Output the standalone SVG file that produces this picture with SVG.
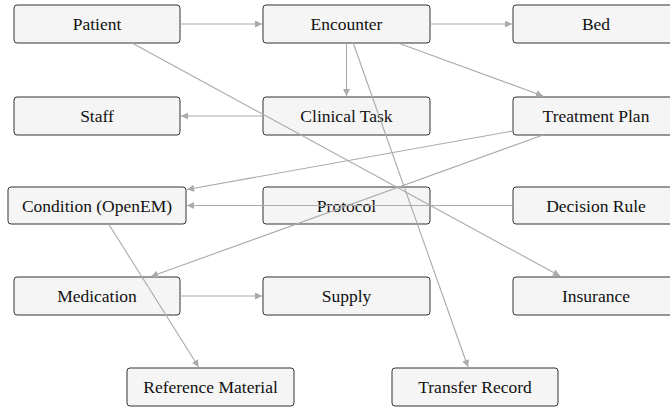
<svg xmlns="http://www.w3.org/2000/svg" width="670" height="407" viewBox="0 0 670 407">
<style>
.n rect{fill:#f5f5f5;stroke:#333;stroke-width:1}
.n text{font-size:17.5px;fill:#111;text-anchor:middle}
.e path{stroke:#aaa;stroke-width:1.1;fill:none;marker-end:url(#ah)}
</style>
<defs>
<marker id="ah" viewBox="0 0 10 10" refX="10" refY="5" markerWidth="9" markerHeight="7" markerUnits="userSpaceOnUse" orient="auto">
<path d="M0,0 L10,5 L0,10 z" fill="#aaa"/>
</marker>
</defs>
<g id="nodes" font-family="Liberation Serif, DejaVu Serif, serif" style="font-family:'Liberation Serif','DejaVu Serif',serif">
<g id="patient" class="n"><rect x="14" y="5" width="166" height="38" rx="3"/><text x="97" y="30">Patient</text></g>
<g id="encounter" class="n"><rect x="263" y="5" width="167" height="38" rx="3"/><text x="346.5" y="30">Encounter</text></g>
<g id="bed" class="n"><rect x="513" y="5" width="166" height="38" rx="3"/><text x="596" y="30">Bed</text></g>
<g id="staff" class="n"><rect x="14" y="97" width="166" height="38" rx="3"/><text x="97" y="122">Staff</text></g>
<g id="clinical-task" class="n"><rect x="263" y="97" width="167" height="38" rx="3"/><text x="346.5" y="122">Clinical Task</text></g>
<g id="treatment-plan" class="n"><rect x="513" y="97" width="166" height="38" rx="3"/><text x="596" y="122">Treatment Plan</text></g>
<g id="condition" class="n"><rect x="8" y="187" width="178" height="37" rx="3"/><text x="97" y="211.5">Condition (OpenEM)</text></g>
<g id="protocol" class="n"><rect x="263" y="187" width="167" height="37" rx="3"/><text x="346.5" y="211.5">Protocol</text></g>
<g id="decision-rule" class="n"><rect x="513" y="187" width="166" height="37" rx="3"/><text x="596" y="211.5">Decision Rule</text></g>
<g id="medication" class="n"><rect x="14" y="277" width="166" height="38" rx="3"/><text x="97" y="302">Medication</text></g>
<g id="supply" class="n"><rect x="263" y="277" width="167" height="38" rx="3"/><text x="346.5" y="302">Supply</text></g>
<g id="insurance" class="n"><rect x="513" y="277" width="166" height="38" rx="3"/><text x="596" y="302">Insurance</text></g>
<g id="reference-material" class="n"><rect x="127" y="368" width="167" height="38" rx="3"/><text x="210.5" y="393">Reference Material</text></g>
<g id="transfer-record" class="n"><rect x="392" y="368" width="166" height="38" rx="3"/><text x="475" y="393">Transfer Record</text></g>
</g>
<g id="connectors" class="e">
<path d="M180,24 L262,24"/>
<path d="M430,24 L512,24"/>
<path d="M346.5,43 L346.5,96"/>
<path d="M398,43 L543,96"/>
<path d="M353.2,43 L468,367"/>
<path d="M263,116 L181,116"/>
<path d="M132,43 L560,276"/>
<path d="M513,131 L187,189.5"/>
<path d="M543,135 L151,276.5"/>
<path d="M513,205.5 L187,205.5"/>
<path d="M108.6,224 L198.6,367"/>
<path d="M180,296 L262,296"/>
</g>
</svg>
